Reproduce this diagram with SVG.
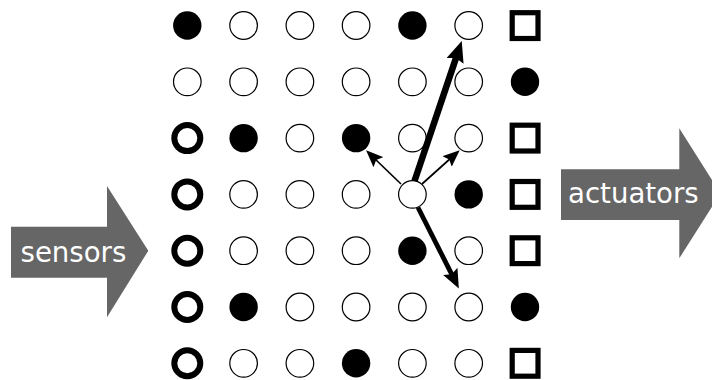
<svg xmlns="http://www.w3.org/2000/svg" width="712" height="380" viewBox="0 0 712 380">
<style>
.o{fill:#fff;stroke:#000;stroke-width:1.2}
.f{fill:#000;stroke:none}
.t{fill:#fff;stroke:#000;stroke-width:6}
.s{fill:#fff;stroke:#000;stroke-width:5.2}
.big{fill:#666}
.lbl{font-family:"DejaVu Sans",sans-serif;font-size:27.6px;fill:#fff}
.c{stroke:#000;fill:none;stroke-linecap:butt}
</style>
<defs>
<marker id="hBig" markerUnits="userSpaceOnUse" viewBox="0 0 21 18" markerWidth="21" markerHeight="18" refX="9" refY="9" orient="auto"><path d="M0,0 L21,9 L0,18 L3,9 z" fill="#000"/></marker>
<marker id="hMid" markerUnits="userSpaceOnUse" viewBox="0 0 19 16" markerWidth="19" markerHeight="16" refX="8" refY="8" orient="auto"><path d="M0,0 L19,8 L0,16 L3,8 z" fill="#000"/></marker>
<marker id="hSm" markerUnits="userSpaceOnUse" viewBox="0 0 17 14" markerWidth="17" markerHeight="14" refX="6" refY="7" orient="auto"><path d="M0,0 L17,7 L0,14 L3,7 z" fill="#000"/></marker>
</defs>
<g id="sensors"><path class="big" d="M11,226.7 H107 V186 L148.3,250.7 L107,317.3 V277.7 H11 Z"/><text class="lbl" x="20.5" y="261.5">sensors</text></g>
<g id="actuators"><path class="big" d="M561,169.3 H679.3 V128.3 L720.5,193.3 L679.3,258.3 V220 H561 Z"/><text class="lbl" x="568" y="203.3">actuators</text></g>
<g id="r0c0"><circle class="f" cx="187.3" cy="25.5" r="14.2"/></g>
<g id="r0c1"><circle class="o" cx="243.6" cy="25.5" r="13.8"/></g>
<g id="r0c2"><circle class="o" cx="299.9" cy="25.5" r="13.8"/></g>
<g id="r0c3"><circle class="o" cx="356.1" cy="25.5" r="13.8"/></g>
<g id="r0c4"><circle class="f" cx="412.4" cy="25.5" r="14.2"/></g>
<g id="r0c5"><circle class="o" cx="468.7" cy="25.5" r="13.8"/></g>
<g id="r0c6"><rect class="s" x="512.2" y="12.7" width="25.8" height="25.8"/></g>
<g id="r1c0"><circle class="o" cx="187.3" cy="81.8" r="13.8"/></g>
<g id="r1c1"><circle class="o" cx="243.6" cy="81.8" r="13.8"/></g>
<g id="r1c2"><circle class="o" cx="299.9" cy="81.8" r="13.8"/></g>
<g id="r1c3"><circle class="o" cx="356.1" cy="81.8" r="13.8"/></g>
<g id="r1c4"><circle class="o" cx="412.4" cy="81.8" r="13.8"/></g>
<g id="r1c5"><circle class="o" cx="468.7" cy="81.8" r="13.8"/></g>
<g id="r1c6"><circle class="f" cx="525" cy="81.8" r="14.2"/></g>
<g id="r2c0"><circle class="t" cx="187.3" cy="138.1" r="13"/></g>
<g id="r2c1"><circle class="f" cx="243.6" cy="138.1" r="14.2"/></g>
<g id="r2c2"><circle class="o" cx="299.9" cy="138.1" r="13.8"/></g>
<g id="r2c3"><circle class="f" cx="356.1" cy="138.1" r="14.2"/></g>
<g id="r2c4"><circle class="o" cx="412.4" cy="138.1" r="13.8"/></g>
<g id="r2c5"><circle class="o" cx="468.7" cy="138.1" r="13.8"/></g>
<g id="r2c6"><rect class="s" x="512.2" y="125.2" width="25.8" height="25.8"/></g>
<g id="r3c0"><circle class="t" cx="187.3" cy="194.4" r="13"/></g>
<g id="r3c1"><circle class="o" cx="243.6" cy="194.4" r="13.8"/></g>
<g id="r3c2"><circle class="o" cx="299.9" cy="194.4" r="13.8"/></g>
<g id="r3c3"><circle class="o" cx="356.1" cy="194.4" r="13.8"/></g>
<g id="r3c4"><circle class="o" cx="412.4" cy="194.4" r="13.8"/></g>
<g id="r3c5"><circle class="f" cx="468.7" cy="194.4" r="14.2"/></g>
<g id="r3c6"><rect class="s" x="512.2" y="181.5" width="25.8" height="25.8"/></g>
<g id="r4c0"><circle class="t" cx="187.3" cy="250.7" r="13"/></g>
<g id="r4c1"><circle class="o" cx="243.6" cy="250.7" r="13.8"/></g>
<g id="r4c2"><circle class="o" cx="299.9" cy="250.7" r="13.8"/></g>
<g id="r4c3"><circle class="o" cx="356.1" cy="250.7" r="13.8"/></g>
<g id="r4c4"><circle class="f" cx="412.4" cy="250.7" r="14.2"/></g>
<g id="r4c5"><circle class="o" cx="468.7" cy="250.7" r="13.8"/></g>
<g id="r4c6"><rect class="s" x="512.2" y="237.8" width="25.8" height="25.8"/></g>
<g id="r5c0"><circle class="t" cx="187.3" cy="307" r="13"/></g>
<g id="r5c1"><circle class="f" cx="243.6" cy="307" r="14.2"/></g>
<g id="r5c2"><circle class="o" cx="299.9" cy="307" r="13.8"/></g>
<g id="r5c3"><circle class="o" cx="356.1" cy="307" r="13.8"/></g>
<g id="r5c4"><circle class="o" cx="412.4" cy="307" r="13.8"/></g>
<g id="r5c5"><circle class="o" cx="468.7" cy="307" r="13.8"/></g>
<g id="r5c6"><circle class="f" cx="525" cy="307" r="14.2"/></g>
<g id="r6c0"><circle class="t" cx="187.3" cy="363.3" r="13"/></g>
<g id="r6c1"><circle class="o" cx="243.6" cy="363.3" r="13.8"/></g>
<g id="r6c2"><circle class="o" cx="299.9" cy="363.3" r="13.8"/></g>
<g id="r6c3"><circle class="f" cx="356.1" cy="363.3" r="14.2"/></g>
<g id="r6c4"><circle class="o" cx="412.4" cy="363.3" r="13.8"/></g>
<g id="r6c5"><circle class="o" cx="468.7" cy="363.3" r="13.8"/></g>
<g id="r6c6"><rect class="s" x="512.2" y="350.4" width="25.8" height="25.8"/></g>
<g id="connectors">
<line class="c" x1="414.5" y1="181" x2="457.9" y2="52.4" stroke-width="6.5" marker-end="url(#hBig)"/>
<line class="c" x1="418" y1="207.5" x2="453.9" y2="278.6" stroke-width="4.8" marker-end="url(#hMid)"/>
<line class="c" x1="401" y1="184" x2="374" y2="158" stroke-width="1.7" marker-end="url(#hSm)"/>
<line class="c" x1="422" y1="184" x2="451.5" y2="157.5" stroke-width="1.7" marker-end="url(#hSm)"/>
</g>
</svg>
